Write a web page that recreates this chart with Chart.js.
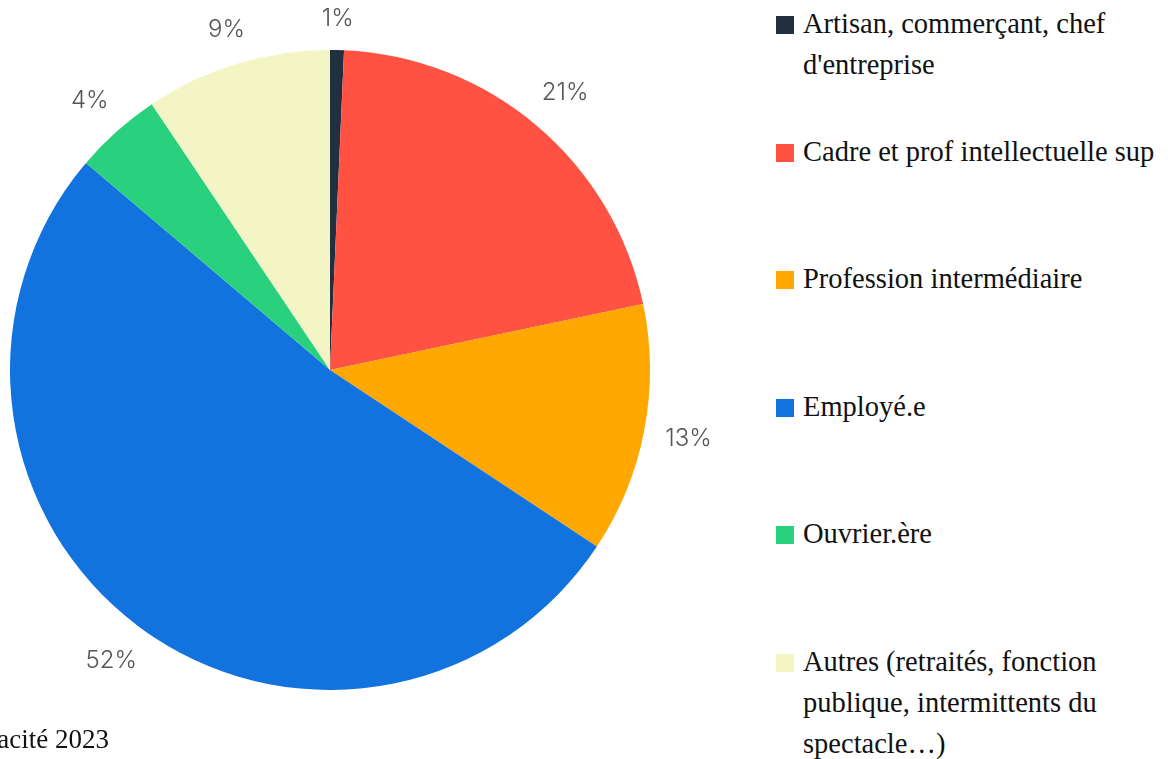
<!DOCTYPE html>
<html lang="fr">
<head>
<meta charset="utf-8">
<script src="https://cdn.jsdelivr.net/npm/chart.js@4/dist/chart.umd.min.js"></script>
<style>
  html, body { margin: 0; padding: 0; background: #fff; overflow: hidden; }
  body { width: 1173px; height: 759px; position: relative; font-family: "Liberation Serif", serif; }
  #wrap { position: absolute; left: 0; top: 0; width: 760px; height: 740px; }
  #legende { position: absolute; left: 776px; top: 3px; width: 400px; }
  .item { display: flex; align-items: flex-start; height: 127.5px; }
  .boite { width: 18px; height: 18px; margin-top: 13px; margin-right: 9px; flex: none; }
  .texte { font-size: 28.5px; line-height: 41px; color: #111; width: 365px; }
  #source { position: absolute; right: 1064px; top: 724px; font-size: 27px; color: #111; white-space: nowrap; }
</style>
</head>
<body>
<div id="wrap"><canvas id="camembert"></canvas></div>
<div id="legende"></div>
<div id="source">Source : enquête Capacité 2023</div>
<script>
// Données
const categories = [
  "Artisan, commerçant, chef d'entreprise",
  "Cadre et prof intellectuelle sup",
  "Profession intermédiaire",
  "Employé.e",
  "Ouvrier.ère",
  "Autres (retraités, fonction publique, intermittents du spectacle...)"
];
const valeurs = [0.7, 21.0, 12.6, 51.9, 4.4, 9.4];
const etiquettes = ["1%", "21%", "13%", "52%", "4%", "9%"];
const couleurs = ["#222f3e", "#ff5242", "#ffa801", "#1273de", "#29d07d", "#f3f5c5"];

// Pourcentages affichés à l'extérieur du camembert
const pourcentsDehors = {
  id: 'pourcentsDehors',
  afterDatasetsDraw(chart) {
    const ctx = chart.ctx;
    const meta = chart.getDatasetMeta(0);
    ctx.save();
    ctx.font = '300 24px Inter, sans-serif';
    ctx.fillStyle = '#555';
    ctx.textAlign = 'center';
    ctx.textBaseline = 'middle';
    meta.data.forEach((arc, i) => {
      const p = arc.getProps(['x', 'y', 'startAngle', 'endAngle', 'outerRadius'], true);
      const milieu = (p.startAngle + p.endAngle) / 2;
      const cx = Math.cos(milieu), cy = Math.sin(milieu);
      const w = ctx.measureText(etiquettes[i]).width;
      // distance selon la taille de la boîte de texte
      const r = p.outerRadius + 20 + Math.abs(cx) * w / 2 + Math.abs(cy) * 11;
      ctx.fillText(etiquettes[i], p.x + cx * r, p.y + cy * r);
    });
    ctx.restore();
  }
};

new Chart(document.getElementById('camembert'), {
  type: 'pie',
  data: {
    labels: categories,
    datasets: [{
      data: valeurs,
      backgroundColor: couleurs,
      borderWidth: 0
    }]
  },
  options: {
    responsive: true,
    maintainAspectRatio: false,
    animation: false,
    layout: { padding: { left: 10, right: 110, top: 50, bottom: 50 } },
    plugins: {
      legend: { display: false },
      tooltip: { enabled: false }
    }
  },
  plugins: [pourcentsDehors]
});

// Légende HTML
const legende = document.getElementById('legende');
categories.forEach((nom, i) => {
  const item = document.createElement('div');
  item.className = 'item';
  const boite = document.createElement('span');
  boite.className = 'boite';
  boite.style.background = couleurs[i];
  const texte = document.createElement('span');
  texte.className = 'texte';
  texte.textContent = nom.replace('...', '…');
  item.appendChild(boite);
  item.appendChild(texte);
  legende.appendChild(item);
});
</script>
</body>
</html>
